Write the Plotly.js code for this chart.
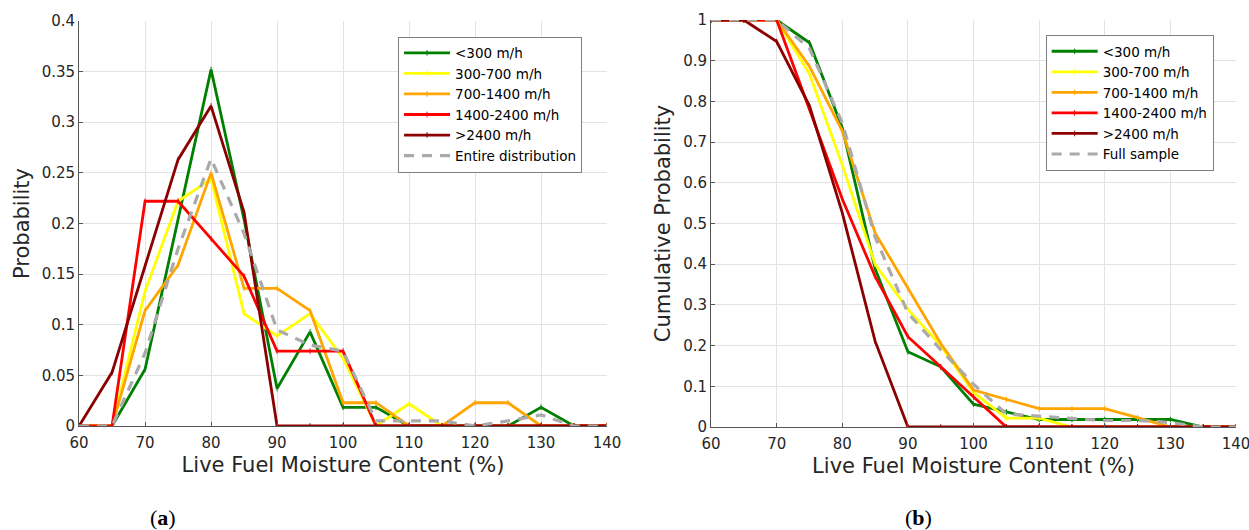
<!DOCTYPE html>
<html>
<head>
<meta charset="utf-8">
<script src="https://cdn.plot.ly/plotly-3.0.1.min.js"></script>
<style>html,body{margin:0;padding:0;background:#fff;}#chart{width:1249px;height:530px;}</style>
</head>
<body>
<div id="chart"></div>
<script>
// Live fuel moisture content bins (%)
const lfmc = [60,65,70,75,80,85,90,95,100,105,110,115,120,125,130,135,140];

const seriesNames = ['<300 m/h','300-700 m/h','700-1400 m/h','1400-2400 m/h','>2400 m/h'];
const seriesColors = ['#008000','#ffff00','#ffa500','#ff0000','#8b0000'];

// (a) Probability
const probLt300   = [0,0,0.056,0.204,0.352,0.204,0.037,0.093,0.0185,0.0185,0,0,0,0,0.0185,0,0];
const prob300_700 = [0,0,0.133,0.222,0.244,0.111,0.089,0.111,0.067,0,0.022,0,0,0,0,0,0];
const prob700_1400= [0,0,0.114,0.159,0.25,0.136,0.136,0.114,0.023,0.023,0,0,0.023,0.023,0,0,0];
const prob1400_2400=[0,0,0.222,0.222,0.185,0.148,0.074,0.074,0.074,0,0,0,0,0,0,0,0];
const probGt2400  = [0,0.053,0.158,0.263,0.316,0.211,0,0,0,0,0,0,0,0,0,0,0];
const probEntire  = [0,0,0.072,0.175,0.264,0.19,0.095,0.08,0.074,0.005,0.005,0.005,0,0.005,0.011,0,0];

// (b) Cumulative probability
const cumLt300    = [1,1,1,0.944,0.735,0.389,0.185,0.148,0.056,0.037,0.0185,0.0185,0.0185,0.0185,0.0185,0,0];
const cum300_700  = [1,1,1,0.867,0.644,0.40,0.289,0.20,0.085,0.022,0.022,0,0,0,0,0,0];
const cum700_1400 = [1,1,1,0.886,0.727,0.477,0.341,0.205,0.091,0.068,0.045,0.045,0.045,0.023,0,0,0];
const cum1400_2400= [1,1,1,0.78,0.56,0.37,0.222,0.148,0.074,0,0,0,0,0,0,0,0];
const cumGt2400   = [1,1,0.947,0.789,0.526,0.211,0,0,0,0,0,0,0,0,0,0,0];
const cumFull     = [1,1,1,0.93,0.747,0.467,0.28,0.19,0.105,0.032,0.026,0.021,0.016,0.016,0.011,0,0];

const probSeries = [probLt300, prob300_700, prob700_1400, prob1400_2400, probGt2400];
const cumSeries  = [cumLt300, cum300_700, cum700_1400, cum1400_2400, cumGt2400];

const FONT = 'DejaVu Sans, sans-serif';
const traces = [];
function addLines(seriesList, xa, ya, legendId) {
  seriesList.forEach((ys, i) => {
    traces.push({
      x: lfmc, y: ys, type: 'scatter', mode: 'lines+markers',
      name: seriesNames[i], xaxis: xa, yaxis: ya, legend: legendId,
      line: {color: seriesColors[i], width: 2.8},
      marker: {symbol: 'line-ns', size: 4, color: seriesColors[i], line: {color: seriesColors[i], width: 1}}
    });
  });
}
addLines(probSeries, 'x', 'y', 'legend');
traces.push({x: lfmc, y: probEntire, type: 'scatter', mode: 'lines', name: 'Entire distribution',
  xaxis: 'x', yaxis: 'y', legend: 'legend', line: {color: '#aaaaaa', width: 3.2, dash: '10px,8px'}});
addLines(cumSeries, 'x2', 'y2', 'legend2');
traces.push({x: lfmc, y: cumFull, type: 'scatter', mode: 'lines', name: 'Full sample',
  xaxis: 'x2', yaxis: 'y2', legend: 'legend2', line: {color: '#aaaaaa', width: 3.2, dash: '10px,8px'}});

const axisCommon = {
  showline: true, linecolor: '#555555', linewidth: 1, mirror: false,
  showgrid: true, gridcolor: '#e3e3e3', gridwidth: 1, zeroline: false,
  ticks: 'inside', ticklen: 4, tickcolor: '#555555', ticklabeloverflow: 'allow',
  tickfont: {family: FONT, size: 15, color: '#262626'}, automargin: false
};
const xTitle = {text: 'Live Fuel Moisture Content (%)', font: {family: FONT, size: 21, color: '#262626'}, standoff: 6};
const legendCommon = {
  bgcolor: '#ffffff', bordercolor: '#808080', borderwidth: 1,
  font: {family: FONT, size: 13.5, color: '#000000'},
  xanchor: 'left', yanchor: 'top', itemwidth: 46, tracegroupgap: 0,
  itemclick: false
};

const layout = {
  width: 1249, height: 530,
  margin: {l: 0, r: 0, t: 0, b: 0},
  paper_bgcolor: '#ffffff', plot_bgcolor: '#ffffff',
  showlegend: true,
  xaxis: Object.assign({}, axisCommon, {domain: [0.0633, 0.486], range: [60, 140], dtick: 10, tick0: 60, ticklabelstandoff: 3, title: xTitle, anchor: 'y'}),
  yaxis: Object.assign({}, axisCommon, {domain: [0.1962, 0.9604], range: [0, 0.4], dtick: 0.05, tick0: 0,
    title: {text: 'Probability', font: {family: FONT, size: 21, color: '#262626'}, standoff: 6}, anchor: 'x'}),
  xaxis2: Object.assign({}, axisCommon, {domain: [0.5693, 0.9896], range: [60, 140], dtick: 10, tick0: 60, ticklabelstandoff: 3, title: xTitle, anchor: 'y2'}),
  yaxis2: Object.assign({}, axisCommon, {domain: [0.1943, 0.9623], range: [0, 1], dtick: 0.1, tick0: 0,
    title: {text: 'Cumulative Probability', font: {family: FONT, size: 21, color: '#262626'}, standoff: 6}, anchor: 'x2'}),
  legend: Object.assign({}, legendCommon, {x: 0.3187, y: 0.931}),
  legend2: Object.assign({}, legendCommon, {x: 0.8372, y: 0.934}),
  annotations: [
    {text: '(<b>a</b>)', x: 163/1249, y: (530-517)/530, xref: 'paper', yref: 'paper', showarrow: false,
      xanchor: 'center', yanchor: 'middle', font: {family: 'Liberation Serif, serif', size: 22, color: '#000'}},
    {text: '(<b>b</b>)', x: 918/1249, y: (530-517)/530, xref: 'paper', yref: 'paper', showarrow: false,
      xanchor: 'center', yanchor: 'middle', font: {family: 'Liberation Serif, serif', size: 22, color: '#000'}}
  ]
};

Plotly.newPlot('chart', traces, layout, {staticPlot: true, displayModeBar: false});
</script>
</body>
</html>
